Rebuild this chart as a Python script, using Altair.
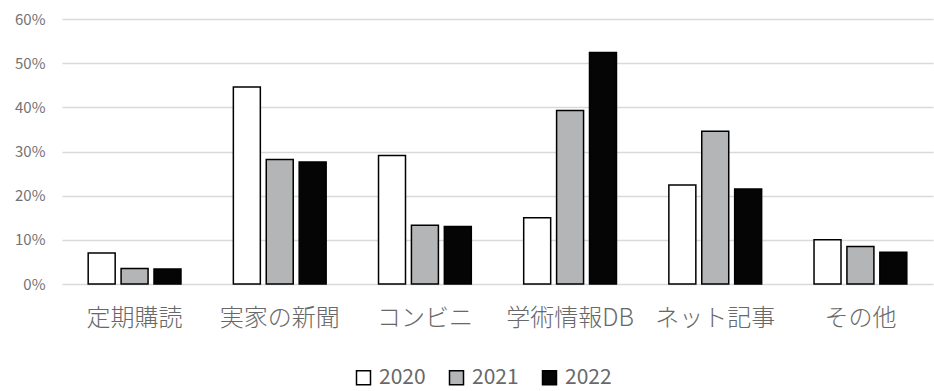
import altair as alt
import pandas as pd

categories = ["定期購読", "実家の新聞", "コンビニ", "学術情報DB", "ネット記事", "その他"]
years = ["2020", "2021", "2022"]
share_2020 = [7.0, 44.6, 29.1, 15.0, 22.4, 10.0]
share_2021 = [3.5, 28.2, 13.3, 39.3, 34.6, 8.5]
share_2022 = [3.4, 27.6, 13.0, 52.4, 21.5, 7.2]

rows = []
for year, series in zip(years, [share_2020, share_2021, share_2022]):
    for cat, v in zip(categories, series):
        rows.append({"category": cat, "year": year, "share": v / 100})
df = pd.DataFrame(rows)

FONT = "Noto Sans CJK JP"
GRAY_TEXT = "#686868"

chart = (
    alt.Chart(df)
    .mark_bar(stroke="black", strokeWidth=1.5)
    .encode(
        x=alt.X(
            "category:N",
            sort=categories,
            title=None,
            scale=alt.Scale(paddingInner=0.32, paddingOuter=0.16),
            axis=alt.Axis(
                labelAngle=0,
                labelFontSize=24,
                labelColor=GRAY_TEXT,
                labelFont=FONT,
                labelFontWeight=300,
                labelPadding=22,
                ticks=False,
                domain=False,
            ),
        ),
        xOffset=alt.XOffset(
            "year:N", sort=years, scale=alt.Scale(paddingInner=0.18, paddingOuter=0.09)
        ),
        y=alt.Y(
            "share:Q",
            title=None,
            scale=alt.Scale(domain=[0, 0.6], nice=False),
            axis=alt.Axis(
                format=".0%",
                values=[0, 0.1, 0.2, 0.3, 0.4, 0.5, 0.6],
                labelFontSize=15,
                labelColor="#737373",
                labelFont=FONT,
                labelPadding=17,
                ticks=False,
                domain=False,
                gridColor="#d9d9d9",
                gridWidth=1.5,
            ),
        ),
        fill=alt.Fill(
            "year:N",
            sort=years,
            scale=alt.Scale(domain=years, range=["#ffffff", "#b4b5b6", "#050505"]),
            legend=alt.Legend(
                title=None,
                orient="none",
                direction="horizontal",
                legendX=291,
                legendY=348,
                symbolType="square",
                symbolSize=196,
                symbolStrokeColor="black",
                symbolStrokeWidth=1.5,
                labelFontSize=21,
                labelColor=GRAY_TEXT,
                labelFont=FONT,
                columnPadding=20,
                labelOffset=5,
            ),
        ),
    )
    .properties(
        width=871,
        height=265,
        padding={"left": 62, "top": 19, "right": 1, "bottom": 107},
        autosize=alt.AutoSizeParams(type="none"),
    )
    .configure_view(stroke=None)
)

chart.save("out.html", embed_options={"renderer": "svg", "actions": False})
